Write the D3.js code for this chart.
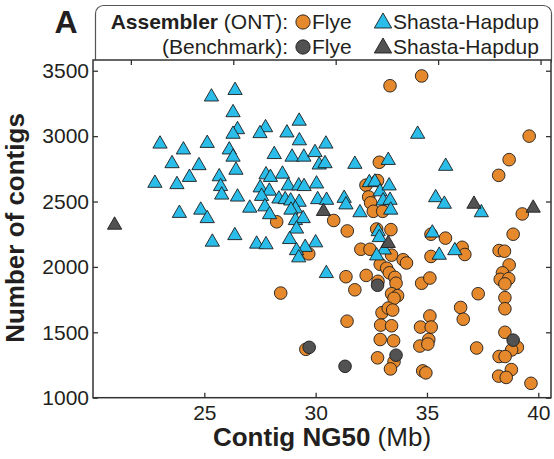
<!DOCTYPE html>
<html>
<head>
<meta charset="utf-8">
<script src="https://cdn.jsdelivr.net/npm/d3@7"></script>
<style>
  body { margin: 0; background: #fff; }
  svg { display: block; font-family: "Liberation Sans", Arial, Helvetica, sans-serif; }
</style>
</head>
<body>
<svg id="chart" width="554" height="459"></svg>
<script>
// data: [contig NG50 (Mb), number of contigs]
const flyeOnt = [
  [34.76,3460],[33.34,3385],[39.59,3000],[38.69,2820],[38.22,2700],[32.86,2800],[32.26,2625],[32.78,2660],
  [32.38,2535],[32.47,2490],[32.59,2425],[33.01,2425],[28.25,2345],[30.81,2355],[31.42,2275],[32.74,2290],
  [33.38,2285],[29.69,2100],[32.03,2135],[32.44,2135],[33.41,2090],[33.93,2055],[34.08,2030],[32.90,2020],
  [33.19,1990],[33.31,1955],[33.56,1920],[33.61,1875],[31.36,1925],[32.27,1935],[31.76,1825],[32.80,1890],
  [33.41,1795],[33.68,1780],[33.52,1760],[32.98,1650],[33.26,1685],[33.46,1670],[31.41,1585],[32.92,1555],
  [33.41,1550],[32.90,1445],[33.50,1435],[32.78,1305],[33.52,1275],[33.36,1220],[29.56,1370],[28.43,1800],
  [34.76,1875],[35.13,1915],[35.13,1625],[34.71,1540],[35.19,1540],[35.08,1445],[34.68,1395],[35.04,1410],
  [34.81,1205],[34.95,1190],[36.51,1690],[36.63,1600],[37.23,1380],[37.30,1795],[35.83,2220],[35.18,2250],
  [36.58,2150],[36.70,2095],[35.18,2080],[38.24,2125],[38.48,2120],[38.69,2015],[38.39,1955],[38.29,1905],
  [38.67,1910],[38.50,1870],[38.50,1765],[38.50,1680],[38.50,1500],[39.06,1385],[38.80,1365],[38.24,1315],
  [38.51,1315],[38.79,1215],[38.22,1165],[38.56,1155],[39.67,1110],[38.87,2250],[39.28,2405]
]
const shastaOnt = [
  [25.32,3300],[26.38,3350],[26.29,3180],[26.49,3050],[26.29,3015],[27.75,3065],[27.50,3020],[29.26,3115],
  [28.71,3025],[23.01,2940],[24.06,2895],[25.13,2945],[26.12,2895],[26.29,2840],[29.27,2965],[30.46,2940],
  [28.14,2860],[28.94,2840],[29.47,2840],[29.97,2875],[30.16,2780],[30.42,2790],[23.55,2790],[24.76,2775],
  [24.33,2685],[25.67,2690],[25.73,2615],[25.78,2550],[26.42,2740],[22.78,2640],[23.77,2630],[27.77,2705],
  [27.97,2685],[28.51,2710],[27.51,2605],[27.92,2580],[28.77,2620],[29.24,2620],[29.48,2615],[30.04,2635],
  [27.57,2540],[28.35,2520],[28.63,2515],[28.88,2505],[29.26,2495],[30.09,2515],[30.49,2510],[26.49,2535],
  [27.04,2450],[27.72,2460],[29.09,2445],[28.89,2435],[23.88,2410],[24.84,2435],[25.13,2370],[27.93,2400],
  [29.09,2355],[29.44,2370],[29.14,2290],[28.83,2210],[30.00,2185],[29.53,2150],[29.14,2125],[29.24,2070],
  [25.36,2190],[26.37,2240],[27.35,2175],[27.77,2170],[30.48,1950],[31.76,2785],[33.26,2815],[32.41,2645],
  [32.66,2650],[32.89,2575],[33.30,2620],[33.03,2505],[33.34,2510],[33.37,2435],[31.28,2525],[31.36,2475],
  [31.99,2415],[32.81,2270],[32.86,2225],[33.08,2130],[32.74,2085],[34.58,3015],[35.84,2770],[35.39,2530],
  [35.78,2480],[37.44,2415],[35.24,2260],[36.25,2125],[35.55,2090]
]
const flyeBench = [[29.71,1385],[31.32,1240],[32.78,1860],[33.61,1325],[38.87,1440]]
const shastaBench = [[20.97,2320],[30.35,2425],[33.26,2180],[37.11,2480],[39.77,2450]]

const xTicks = [25, 30, 35, 40]
const yTicks = [1000, 1500, 2000, 2500, 3000, 3500]
const topTicks = [21.7, 26.3, 30.9, 35.5, 40.1]

const orange = "#e5892c"
const cyan = "#2bbde9"
const darkGrey = "#525252"
const ink = "#231f20"

const svg = d3.select("#chart")

const x = d3.scaleLinear().domain([20, 40.57]).range([93, 551])
const y = d3.scaleLinear().domain([1000, 3582]).range([397.7, 60])

const circle = d3.symbol().type(d3.symbolCircle).size(125)
const triangle = d3.symbol().type(d3.symbolTriangle).size(88)

// legend box (behind the frame)
svg.append("rect")
  .attr("x", 95.5).attr("y", 5.5)
  .attr("width", 456).attr("height", 62)
  .attr("rx", 8)
  .attr("fill", "#fff")
  .attr("stroke", "#555").attr("stroke-width", 1.2)

// plot frame
svg.append("rect")
  .attr("x", x(20)).attr("y", y(3582))
  .attr("width", x(40.57) - x(20)).attr("height", y(1000) - y(3582))
  .attr("fill", "#fff")
  .attr("stroke", "#333").attr("stroke-width", 1.5)

// axes, ticks pointing inward
const axisB = svg.append("g").attr("transform", `translate(0,${y(1000)})`)
  .call(d3.axisBottom(x).tickValues(xTicks).tickFormat(d3.format("d")).tickSizeInner(-5).tickSizeOuter(0).tickPadding(7))
const axisL = svg.append("g").attr("transform", `translate(${x(20)},0)`)
  .call(d3.axisLeft(y).tickValues(yTicks).tickFormat(d3.format("d")).tickSizeInner(-5).tickSizeOuter(0).tickPadding(4))
const axisT = svg.append("g").attr("transform", `translate(0,${y(3582)})`)
  .call(d3.axisTop(x).tickValues(topTicks).tickSizeInner(-5).tickSizeOuter(0).tickFormat(""))
const axisR = svg.append("g").attr("transform", `translate(${x(40.57)},0)`)
  .call(d3.axisRight(y).tickValues(yTicks).tickSizeInner(-5).tickSizeOuter(0).tickFormat(""))

;[axisB, axisL, axisT, axisR].forEach(g => {
  g.select(".domain").remove()
  g.selectAll(".tick line").attr("stroke", "#333").attr("stroke-width", 1.3)
  g.selectAll(".tick text").attr("fill", ink).style("font-size", "21px")
    .style("font-family", '"Liberation Sans", Arial, sans-serif')
})

// points
const drawPts = (data, sym, fill) => {
  svg.append("g").selectAll("path")
    .data(data)
    .join("path")
    .attr("d", sym)
    .attr("transform", d => `translate(${x(d[0])},${y(d[1])})`)
    .attr("fill", fill)
    .attr("stroke", "#1c1c1c")
    .attr("stroke-width", 0.9)
}
drawPts(flyeOnt, circle, orange)
drawPts(shastaOnt, triangle, cyan)
drawPts(flyeBench, circle, darkGrey)
drawPts(shastaBench, triangle, darkGrey)

// axis titles
svg.append("text")
  .attr("transform", `translate(24,${228}) rotate(-90)`)
  .attr("text-anchor", "middle")
  .attr("fill", ink)
  .style("font-size", "26px").style("font-weight", "bold")
  .text("Number of contigs")

const xt = svg.append("text")
  .attr("x", 322).attr("y", 446)
  .attr("text-anchor", "middle")
  .attr("fill", ink)
  .style("font-size", "26px")
xt.append("tspan").style("font-weight", "bold").text("Contig NG50")
xt.append("tspan").text(" (Mb)")

// panel letter
svg.append("text")
  .attr("x", 66).attr("y", 33)
  .attr("text-anchor", "middle")
  .attr("fill", ink)
  .style("font-size", "32px").style("font-weight", "bold")
  .text("A")

// legend
const leg = svg.append("g").style("font-size", "21px").attr("fill", ink)
const l1 = leg.append("text").attr("x", 288).attr("y", 29).attr("text-anchor", "end")
l1.append("tspan").style("font-weight", "bold").text("Assembler")
l1.append("tspan").text(" (ONT):")
leg.append("text").attr("x", 288).attr("y", 54).attr("text-anchor", "end").text("(Benchmark):")

const legRows = [
  { yy: 22, circ: orange, tri: cyan },
  { yy: 47, circ: darkGrey, tri: darkGrey }
]
legRows.forEach(r => {
  leg.append("path").attr("d", d3.symbol().type(d3.symbolCircle).size(160))
    .attr("transform", `translate(303,${r.yy})`)
    .attr("fill", r.circ).attr("stroke", "#1c1c1c").attr("stroke-width", 0.9)
  leg.append("text").attr("x", 312).attr("y", r.yy + 7).text("Flye")
  leg.append("path").attr("d", d3.symbol().type(d3.symbolTriangle).size(130))
    .attr("transform", `translate(383,${r.yy + 1})`)
    .attr("fill", r.tri).attr("stroke", "#1c1c1c").attr("stroke-width", 0.9)
  leg.append("text").attr("x", 393).attr("y", r.yy + 7).text("Shasta-Hapdup")
})
</script>
</body>
</html>
